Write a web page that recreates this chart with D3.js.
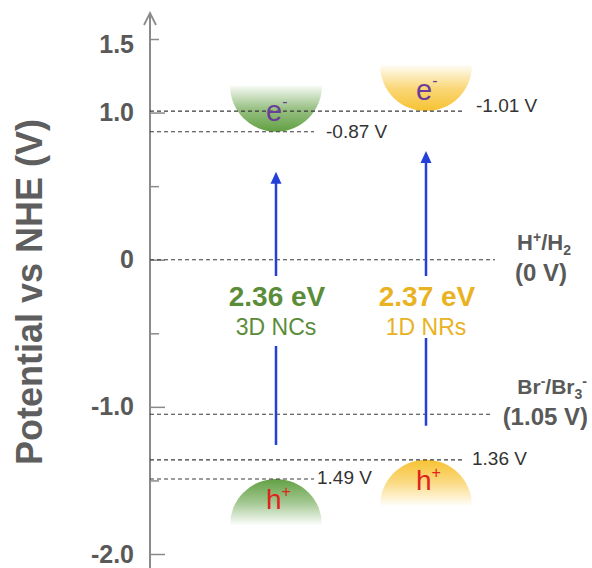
<!DOCTYPE html>
<html>
<head>
<meta charset="utf-8">
<script src="https://cdn.jsdelivr.net/npm/d3@7"></script>
<style>
  body { margin: 0; background: #fff; }
  text { font-family: "Liberation Sans", Arial, sans-serif; }
</style>
</head>
<body>
<svg id="chart" width="592" height="568"></svg>
<script>
// band edge data (V vs NHE)
var materials = ["3D NCs", "1D NRs"];
var bandGaps = [2.36, 2.37];
var cbPotentials = [-0.87, -1.01];
var vbPotentials = [1.49, 1.36];
var redoxCouples = ["H+/H2", "Br-/Br3-"];
var redoxPotentials = [0, 1.05];
var tickValues = [1.5, 1.0, 0, -1.0, -2.0];
var tickLabels = ["1.5", "1.0", "0", "-1.0", "-2.0"];
var minorTicks = [1.5, 0.5, -0.5, -1.5];

var bandColors = ["#62a043", "#f7c232"];
var textColors = ["#5b8c3a", "#e9b223"];

var svg = d3.select("#chart"),
    width = +svg.attr("width"),
    height = +svg.attr("height"),
    axisX = 150,
    radius = 46;

var y = d3.scaleLinear()
    .domain([-2, 1.5])
    .range([554, 39]);

// figure draws a potential p at axis value -p
function yPot(p) { return y(-p); }

function volts(v) { return v.toFixed(2) + " V"; }

var x = d3.scalePoint()
    .domain(materials)
    .range([276, 426]);

var defs = svg.append("defs");

materials.forEach(function(m, i) {
  var gDown = defs.append("linearGradient")
      .attr("id", "cb" + i).attr("x1", 0).attr("y1", 0).attr("x2", 0).attr("y2", 1);
  gDown.append("stop").attr("offset", "0%").attr("stop-color", bandColors[i]).attr("stop-opacity", 0.05);
  gDown.append("stop").attr("offset", "50%").attr("stop-color", bandColors[i]).attr("stop-opacity", 0.65);
  gDown.append("stop").attr("offset", "100%").attr("stop-color", bandColors[i]).attr("stop-opacity", 1);
  var gUp = defs.append("linearGradient")
      .attr("id", "vb" + i).attr("x1", 0).attr("y1", 1).attr("x2", 0).attr("y2", 0);
  gUp.append("stop").attr("offset", "0%").attr("stop-color", bandColors[i]).attr("stop-opacity", 0.02);
  gUp.append("stop").attr("offset", "50%").attr("stop-color", bandColors[i]).attr("stop-opacity", 0.6);
  gUp.append("stop").attr("offset", "100%").attr("stop-color", bandColors[i]).attr("stop-opacity", 1);
});

// axis line + arrow head
svg.append("line")
    .attr("x1", axisX).attr("x2", axisX)
    .attr("y1", height).attr("y2", 13)
    .attr("stroke", "#8a8a8a").attr("stroke-width", 2);
svg.append("path")
    .attr("d", "M" + (axisX - 6) + ",25L" + axisX + ",13L" + (axisX + 6) + ",25")
    .attr("fill", "none").attr("stroke", "#8a8a8a").attr("stroke-width", 1.8);

// minor ticks
svg.append("g")
    .attr("transform", "translate(" + axisX + ",0)")
    .call(d3.axisLeft(y).tickValues(minorTicks).tickSize(-9).tickFormat(""))
    .call(function(g) { g.select(".domain").remove(); })
    .selectAll("line").attr("stroke", "#8a8a8a").attr("stroke-width", 1.5);

// major ticks with labels
var yAxis = svg.append("g")
    .attr("transform", "translate(" + axisX + ",0)")
    .call(d3.axisLeft(y)
      .tickValues(tickValues.filter(function(v) { return v !== 1.5; }))
      .tickSize(-15).tickPadding(16)
      .tickFormat(function(d) { return tickLabels[tickValues.indexOf(d)]; }));
yAxis.select(".domain").remove();
yAxis.selectAll("line").attr("stroke", "#8a8a8a").attr("stroke-width", 1.5);

// 1.5 label (its tick is a minor one)
svg.append("text")
    .attr("x", axisX - 16).attr("y", y(1.5) + 6)
    .attr("dy", "0.32em")
    .attr("text-anchor", "end")
    .text(tickLabels[0]);

svg.selectAll("g text, svg > text")
    .attr("font-size", 25).attr("font-weight", "bold").attr("fill", "#595959")
    .attr("font-family", "'Liberation Sans', Arial, sans-serif");

svg.append("text")
    .attr("transform", "translate(42,292) rotate(-90)")
    .attr("text-anchor", "middle")
    .attr("font-size", 36).attr("font-weight", "bold").attr("fill", "#5e5e5e")
    .text("Potential vs NHE (V)");

// band discs
materials.forEach(function(m, i) {
  var cx = x(m), cy = yPot(cbPotentials[i]), vy = yPot(vbPotentials[i]);
  svg.append("path")
      .attr("d", "M" + (cx - radius) + "," + (cy - radius) +
                 "A" + radius + "," + radius + " 0 0,0 " + (cx + radius) + "," + (cy - radius) + "Z")
      .attr("fill", "url(#cb" + i + ")");
  svg.append("path")
      .attr("d", "M" + (cx - radius) + "," + (vy + radius) +
                 "A" + radius + "," + radius + " 0 0,1 " + (cx + radius) + "," + (vy + radius) + "Z")
      .attr("fill", "url(#vb" + i + ")");
});

// dashed levels
function dashed(yy, x2) {
  svg.append("line")
      .attr("x1", axisX).attr("x2", x2)
      .attr("y1", yy).attr("y2", yy)
      .attr("stroke", "#3a3a3a").attr("stroke-width", 1.1)
      .attr("stroke-dasharray", "4,3");
}

materials.forEach(function(m, i) {
  var end = x(m) + 38;
  dashed(yPot(cbPotentials[i]), end);
  dashed(yPot(vbPotentials[i]), end);
  svg.append("text")
      .attr("x", end + 12).attr("y", yPot(cbPotentials[i]) + (i === 0 ? 6 : 1))
      .attr("font-size", 19).attr("fill", "#333")
      .text(volts(cbPotentials[i]));
  svg.append("text")
      .attr("x", end + (i === 0 ? 3 : 8)).attr("y", yPot(vbPotentials[i]) + 5)
      .attr("font-size", 19).attr("fill", "#333")
      .text(volts(vbPotentials[i]));
});

redoxPotentials.forEach(function(p, i) {
  dashed(yPot(p), i === 0 ? 495 : 490);
});

// redox labels
var h2 = svg.append("text")
    .attr("x", 544).attr("y", yPot(redoxPotentials[0]) - 10)
    .attr("text-anchor", "middle")
    .attr("font-size", 22).attr("font-weight", "bold").attr("fill", "#595959");
h2.append("tspan").text("H");
h2.append("tspan").attr("font-size", 14).attr("dy", -8).text("+");
h2.append("tspan").attr("dy", 8).text("/H");
h2.append("tspan").attr("font-size", 14).attr("dy", 5).text("2");
svg.append("text")
    .attr("x", 541).attr("y", yPot(redoxPotentials[0]) + 21)
    .attr("text-anchor", "middle")
    .attr("font-size", 24).attr("font-weight", "bold").attr("fill", "#595959")
    .text("(" + redoxPotentials[0] + " V)");

var br = svg.append("text")
    .attr("x", 587).attr("y", yPot(redoxPotentials[1]) - 20)
    .attr("text-anchor", "end")
    .attr("font-size", 21).attr("font-weight", "bold").attr("fill", "#595959");
br.append("tspan").text("Br");
br.append("tspan").attr("font-size", 14).attr("dy", -8).text("-");
br.append("tspan").attr("dy", 8).text("/Br");
br.append("tspan").attr("font-size", 14).attr("dy", 5).text("3");
br.append("tspan").attr("font-size", 14).attr("dy", -13).text("-");
svg.append("text")
    .attr("x", 588).attr("y", yPot(redoxPotentials[1]) + 11)
    .attr("text-anchor", "end")
    .attr("font-size", 24).attr("font-weight", "bold").attr("fill", "#595959")
    .text("(" + redoxPotentials[1].toFixed(2) + " V)");

// excitation arrows and gap labels
materials.forEach(function(m, i) {
  var cx = x(m),
      top = yPot(cbPotentials[i]) + 40,
      bottom = yPot(vbPotentials[i]) - 34;
  svg.append("line")
      .attr("x1", cx).attr("x2", cx)
      .attr("y1", bottom).attr("y2", top + 10)
      .attr("stroke", "#2440d8").attr("stroke-width", 2.5);
  svg.append("path")
      .attr("d", "M" + (cx - 5.5) + "," + (top + 12) + "L" + cx + "," + top + "L" + (cx + 5.5) + "," + (top + 12) + "Z")
      .attr("fill", "#2440d8");
  svg.append("rect")
      .attr("x", cx - 58).attr("y", 276)
      .attr("width", 116).attr("height", i === 0 ? 70 : 62)
      .attr("fill", "#fff");
  svg.append("text")
      .attr("x", cx + 1).attr("y", 306)
      .attr("text-anchor", "middle")
      .attr("font-size", 28).attr("font-weight", "bold").attr("fill", textColors[i])
      .text(bandGaps[i].toFixed(2) + " eV");
  svg.append("text")
      .attr("x", cx).attr("y", 335)
      .attr("text-anchor", "middle")
      .attr("font-size", 23).attr("fill", textColors[i])
      .text(m);

  var e = svg.append("text")
      .attr("x", cx - 10).attr("y", yPot(cbPotentials[i]) - 11)
      .attr("font-size", 29).attr("fill", "#6b3d96");
  e.append("tspan").text("e");
  e.append("tspan").attr("font-size", 16).attr("dy", -14).text("-");

  var h = svg.append("text")
      .attr("x", cx - 10).attr("y", yPot(vbPotentials[i]) + 30)
      .attr("font-size", 28).attr("fill", "#e0231c");
  h.append("tspan").text("h");
  h.append("tspan").attr("font-size", 16).attr("dy", -12).text("+");
});
</script>
</body>
</html>
